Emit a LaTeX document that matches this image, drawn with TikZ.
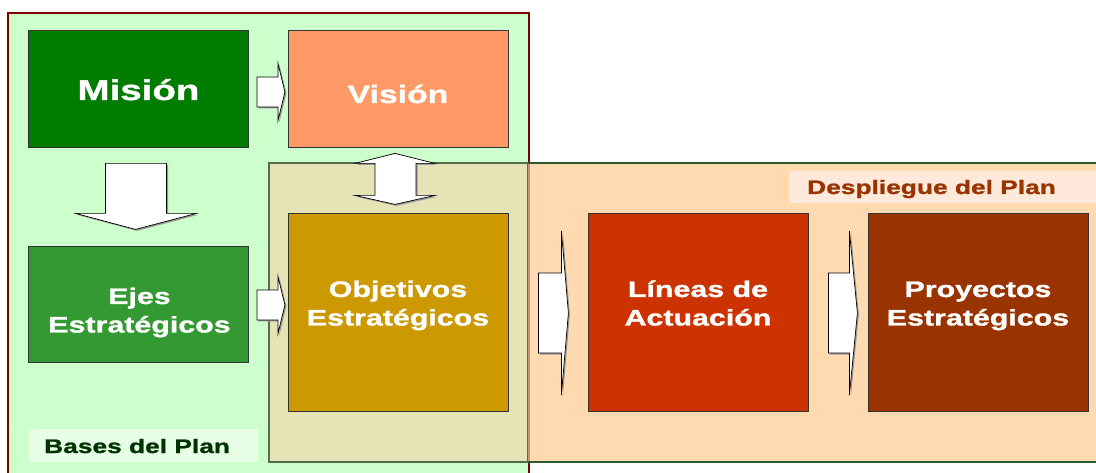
\documentclass[tikz,border=0pt]{standalone}
\usepackage{fontspec}
\setmainfont{Liberation Sans}[FakeStretch=1.35, BoldFeatures={FakeBold=1.2}]
\usetikzlibrary{calc}
\definecolor{basegreen}{HTML}{CCFFCC}
\definecolor{baseborder}{HTML}{800000}
\definecolor{tanfill}{HTML}{E6E4B6}
\definecolor{tanborder}{HTML}{4F6F4F}
\definecolor{peach}{HTML}{FFD9B0}
\definecolor{peachborder}{HTML}{2F5A2F}
\definecolor{seam}{HTML}{C99277}
\definecolor{cmision}{HTML}{007D00}
\definecolor{cejes}{HTML}{339933}
\definecolor{cvision}{HTML}{FF9966}
\definecolor{cobjetivos}{HTML}{CC9900}
\definecolor{clineas}{HTML}{CC3300}
\definecolor{cproyectos}{HTML}{993300}
\definecolor{despfill}{HTML}{FFE9DA}
\definecolor{desptext}{HTML}{993300}
\definecolor{basesfill}{HTML}{E6FFE6}
\definecolor{basestext}{HTML}{003300}
\newcommand\twolines[2]{{\setlength{\tabcolsep}{0pt}\begin{tabular}[t]{c}#1\\#2\end{tabular}}}
\tikzset{
  box/.style={draw=black!80, line width=0.8pt, inner sep=0pt, minimum width=220pt},
  boxtext/.style={inner sep=0pt, anchor=base, text=white},
  twoline/.style={font=\fontsize{22.5}{28.5}\selectfont\bfseries},
  blockarrow/.style={fill=white, draw=black, line width=0.7pt, line join=miter,
    preaction={fill=black!40, transform canvas={shift={(1.5pt,-1.5pt)}}}},
  labelbox/.style={inner sep=0pt, anchor=north west},
  labeltext/.style={inner sep=0pt, anchor=base west, font=\fontsize{19.5}{24}\selectfont\bfseries}
}
\begin{document}
\begin{tikzpicture}[x=1pt,y=-1pt]
\useasboundingbox (0,0) rectangle (1096,473);
% regions
\path[fill=basegreen, draw=baseborder, line width=1.5pt] (8,13) rectangle (529,485);
\path[fill=tanfill, draw=tanborder, line width=1.2pt] (269,163) rectangle (528,462);
\path[fill=peach] (528,163) rectangle (1110,462);
\draw[peachborder, line width=1.5pt] (528,163) -- (1110,163);
\draw[peachborder, line width=1.5pt] (528,462) -- (1110,462);
\draw[seam, line width=2pt] (528.5,163.8) -- (528.5,461.2);
% labels
\node[labelbox, fill=despfill, minimum width=320pt, minimum height=32pt] (despbox) at (789,171) {};
\node[labeltext, text=desptext] (desp) at (807,194) {Despliegue del Plan};
\node[labelbox, fill=basesfill, minimum width=229pt, minimum height=33pt] (basesbox) at (29,429) {};
\node[labeltext, text=basestext] (bases) at (44,453) {Bases del Plan};
% boxes
\node[box, fill=cmision, minimum height=117pt] (mision) at (138.5,88.5) {};
\node[box, fill=cvision, minimum height=117pt] (vision) at (398,88.5) {};
\node[box, fill=cejes, minimum height=116pt] (ejes) at (138.5,304) {};
\node[box, fill=cobjetivos, minimum height=198pt] (objetivos) at (398,312) {};
\node[box, fill=clineas, minimum height=198pt] (lineas) at (698,312) {};
\node[box, fill=cproyectos, minimum height=198pt] (proyectos) at (978,312) {};
% box texts
\node[boxtext, font=\fontsize{28.5}{34}\selectfont\bfseries] (mision-t) at ($(mision.center)+(0,11.5)$) {Misión};
\node[boxtext, font=\fontsize{25}{30}\selectfont\bfseries] (vision-t) at ($(vision.center)+(0,14.5)$) {Visión};
\node[boxtext, twoline] (ejes-t) at ($(ejes.center)+(1,0)$) {\twolines{Ejes}{Estratégicos}};
\node[boxtext, twoline] (objetivos-t) at ($(objetivos.center)+(0,-15)$) {\twolines{Objetivos}{Estratégicos}};
\node[boxtext, twoline] (lineas-t) at ($(lineas.center)+(0,-15)$) {\twolines{Líneas de}{Actuación}};
\node[boxtext, twoline] (proyectos-t) at ($(proyectos.center)+(0,-15)$) {\twolines{Proyectos}{Estratégicos}};
% arrow anchors
\coordinate (a1) at ($(mision.east)+(8,3.5)$);
\coordinate (a2) at ($(ejes.east)+(8,1)$);
\coordinate (a3) at ($(objetivos.east)+(30,1)$);
\coordinate (a4) at ($(lineas.east)+(20,1)$);
\coordinate (d1) at ($(mision.south)+(-3,16)$);
\coordinate (v1) at ($(vision.south)+(-3,6)$);
% arrows
\draw[blockarrow] (a1) ++(0,-15) -- ++(21,0) -- ++(0,-14) -- ++(7,29) -- ++(-7,29) -- ++(0,-14) -- ++(-21,0) -- cycle;
\draw[blockarrow] (a2) ++(0,-15) -- ++(21,0) -- ++(0,-14) -- ++(7,29) -- ++(-7,29) -- ++(0,-14) -- ++(-21,0) -- cycle;
\draw[blockarrow] (a3) ++(0,-40) -- ++(23,0) -- ++(0,-42) -- ++(7,82) -- ++(-7,82) -- ++(0,-42) -- ++(-23,0) -- cycle;
\draw[blockarrow] (a4) ++(0,-40) -- ++(21,0) -- ++(0,-42) -- ++(8,82) -- ++(-8,82) -- ++(0,-42) -- ++(-21,0) -- cycle;
\draw[blockarrow] (d1) ++(-30,0) -- ++(61,0) -- ++(0,50) -- ++(30,0) -- ++(-61,16) -- ++(-60,-16) -- ++(30,0) -- cycle;
\draw[blockarrow] (v1) -- ++(40,10) -- ++(-19,0) -- ++(0,32) -- ++(19,0) -- ++(-40,9) -- ++(-40,-9) -- ++(20,0) -- ++(0,-32) -- ++(-20,0) -- cycle;
\end{tikzpicture}
\end{document}
